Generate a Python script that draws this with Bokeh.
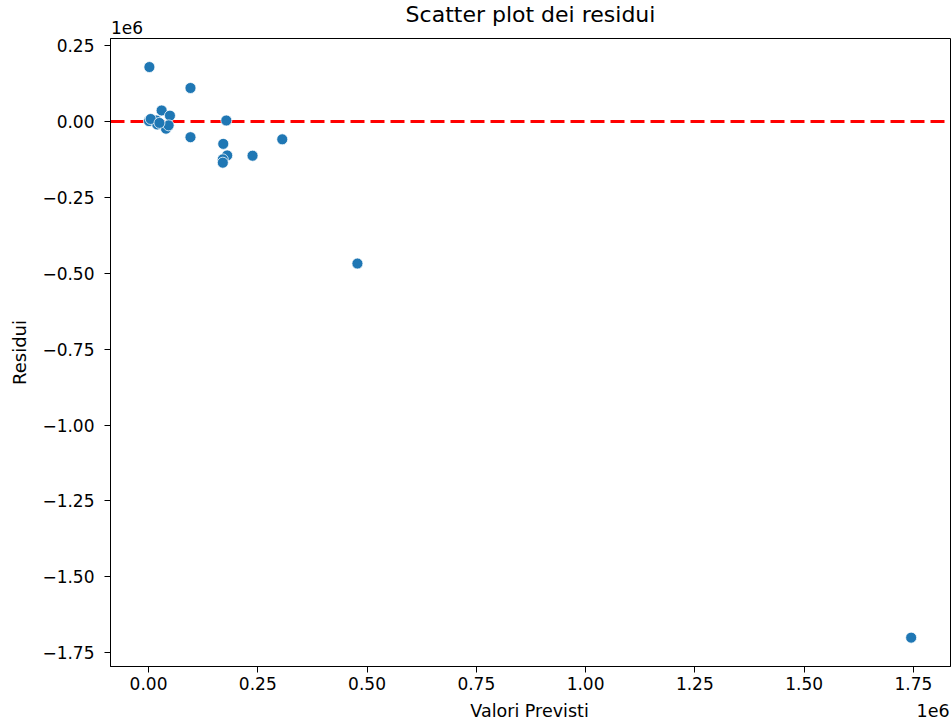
from bokeh.plotting import figure
from bokeh.models import FixedTicker, CustomJSTickFormatter, Span, Range1d, LinearAxis
from bokeh.embed import file_html
from bokeh.resources import INLINE

# Predicted values (x) and residuals (y), raw units
valori_previsti = [2000, 96000, 30000, 49000, 1000, 18000, 20000, 40000, 46000, 5000, 25000,
                   178000, 96000, 171000, 306000, 180000, 238000, 170000, 170000,
                   478000, 1745000]
residui = [179000, 110000, 36000, 19000, 1000, 3000, -10000, -24000, -13000, 8000, -5000,
           3000, -52000, -74000, -59000, -112000, -113000, -125000, -136000,
           -468000, -1700000]

x_ticks = [0, 250000, 500000, 750000, 1000000, 1250000, 1500000, 1750000]
y_ticks = [250000, 0, -250000, -500000, -750000, -1000000, -1250000, -1500000, -1750000]

FONT = "DejaVu Sans"
TICK_FS = "17px"
LABEL_FS = "18px"

p = figure(frame_width=840, frame_height=628,
           x_range=Range1d(-87000, 1835000), y_range=Range1d(-1795000, 273000),
           output_backend="svg", toolbar_location=None,
           min_border_left=110, min_border_right=2, min_border_top=38, min_border_bottom=59,
           title="Scatter plot dei residui")

p.title.align = "center"
p.title.text_font = FONT
p.title.text_font_size = "22px"
p.title.text_font_style = "normal"
p.title.text_color = "black"
p.title.offset = 0
p.title.standoff = -19

p.xgrid.visible = False
p.ygrid.visible = False
p.outline_line_color = "black"
p.outline_line_width = 1
p.background_fill_color = "white"
p.border_fill_color = "white"

fmt = CustomJSTickFormatter(code="""
var v = tick/1e6;
var s = Math.abs(v).toFixed(2);
return (v < -1e-9 ? '\\u2212' : '') + s;
""")


def style_axis(ax, size):
    ax.axis_label_text_font = FONT
    ax.axis_label_text_font_size = LABEL_FS
    ax.axis_label_text_font_style = "normal"
    ax.axis_label_text_color = "black"
    ax.major_label_text_font = FONT
    ax.major_label_text_font_size = size
    ax.major_label_text_color = "black"
    ax.minor_tick_line_color = None
    ax.major_tick_in = 0
    ax.major_tick_line_color = "black"
    ax.axis_line_color = "black"


for ax, ticks in ((p.xaxis[0], x_ticks), (p.yaxis[0], y_ticks)):
    style_axis(ax, TICK_FS)
    ax.ticker = FixedTicker(ticks=ticks)
    ax.formatter = fmt
    ax.major_tick_out = 6

p.yaxis[0].axis_label = "Residui"
p.yaxis[0].major_label_standoff = 10
p.yaxis[0].axis_label_standoff = 9
p.xaxis[0].major_label_standoff = 4

# Text row under the x tick labels: axis title and the 1e6 offset
label_row_pos = [871850, 1795200]
label_row_txt = ["Valori Previsti", "1e6"]
row = LinearAxis(ticker=FixedTicker(ticks=label_row_pos),
                 major_label_overrides=dict(zip(label_row_pos, label_row_txt)))
style_axis(row, "17.5px")
row.major_tick_out = 0
row.major_tick_line_color = None
row.axis_line_color = None
row.major_label_standoff = 8
p.add_layout(row, "below")

# 1e6 offset of the y axis, above the frame's top-left corner
top_pos = [-49200]
top_txt = ["1e6"]
top = LinearAxis(ticker=FixedTicker(ticks=top_pos),
                 major_label_overrides=dict(zip(top_pos, top_txt)))
style_axis(top, TICK_FS)
top.major_tick_out = 0
top.major_tick_line_color = None
top.axis_line_color = None
top.major_label_standoff = 5
p.add_layout(top, "above")

p.add_layout(Span(location=0, dimension="width", line_color="red", line_width=3,
                  line_dash="14 6", level="underlay"))

p.scatter(valori_previsti, residui, size=11, fill_color="#1f77b4", line_color="white",
          line_width=0.75)

open("out.html", "w").write(file_html(p, INLINE))
